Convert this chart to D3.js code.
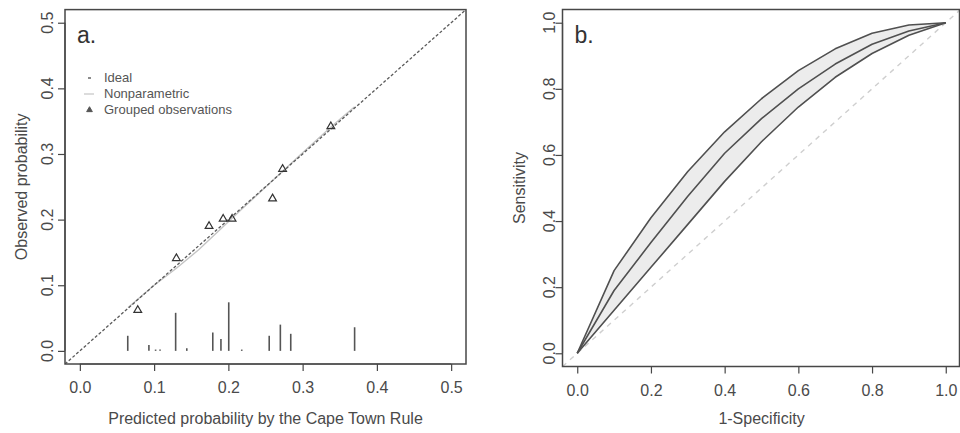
<!DOCTYPE html>
<html>
<head>
<meta charset="utf-8">
<script src="https://cdn.jsdelivr.net/npm/d3@7"></script>
<style>
  html, body { margin: 0; padding: 0; background: #fff; }
  svg { display: block; font-family: "Liberation Sans", Arial, Helvetica, sans-serif; }
</style>
</head>
<body>
<svg id="chart" width="960" height="433"></svg>
<script>
// ---------- Panel a data (calibration) ----------
const groupedPred = [0.078, 0.130, 0.174, 0.193, 0.205, 0.2595, 0.273, 0.338];
const groupedObs  = [0.062, 0.141, 0.190, 0.201, 0.201, 0.232, 0.277, 0.342];
const nonparPred  = [0.065, 0.10, 0.13, 0.16, 0.19, 0.22, 0.26, 0.30, 0.34, 0.37];
const nonparObs   = [0.066, 0.10, 0.126, 0.154, 0.186, 0.218, 0.26, 0.302, 0.343, 0.372];
const spikeX = [0.0645, 0.093, 0.102, 0.108, 0.129, 0.144, 0.179, 0.190, 0.2005, 0.218, 0.255, 0.270, 0.284, 0.370];
const spikeH = [0.023, 0.009, 0.002, 0.002, 0.058, 0.004, 0.028, 0.018, 0.074, 0.002, 0.023, 0.040, 0.026, 0.036];
const ticksA = [0.0, 0.1, 0.2, 0.3, 0.4, 0.5];
const legendLabels = ["Ideal", "Nonparametric", "Grouped observations"];

// ---------- Panel b data (ROC) ----------
const fpr      = [0, 0.1, 0.2, 0.3, 0.4, 0.5, 0.6, 0.7, 0.8, 0.9, 1.0];
const rocUpper = [0, 0.25, 0.41, 0.55, 0.67, 0.77, 0.855, 0.921, 0.968, 0.993, 1.0];
const rocMid   = [0, 0.19, 0.335, 0.475, 0.605, 0.71, 0.80, 0.875, 0.935, 0.975, 1.0];
const rocLower = [0, 0.13, 0.26, 0.39, 0.52, 0.64, 0.745, 0.835, 0.907, 0.962, 1.0];
const ticksB = [0.0, 0.2, 0.4, 0.6, 0.8, 1.0];

const svg = d3.select("#chart");
const textCol = "#4a4a4a";
const boxCol = "#474747";
const fmt = d3.format(".1f");

function rAxes(g, x, y, ticks, box, xTitle, yTitle, panelLabel, yLabX, yTitleX) {
  g.append("rect")
    .attr("x", box.l).attr("y", box.t)
    .attr("width", box.r - box.l).attr("height", box.b - box.t)
    .attr("fill", "none").attr("stroke", boxCol).attr("stroke-width", 1.5);
  const xa = g.append("g").attr("transform", `translate(0,${box.b})`)
    .call(d3.axisBottom(x).tickValues(ticks).tickFormat(fmt).tickSize(7).tickPadding(11));
  xa.select(".domain").remove();
  xa.append("line").attr("x1", x(ticks[0])).attr("x2", x(ticks[ticks.length-1]))
    .attr("stroke", boxCol).attr("stroke-width", 1.2);
  xa.selectAll(".tick line").attr("stroke", boxCol).attr("stroke-width", 1.2);
  xa.selectAll(".tick text").attr("fill", textCol).attr("font-size", 16)
    .attr("font-family", '"Liberation Sans", Arial, sans-serif');
  const ya = g.append("g").attr("transform", `translate(${box.l},0)`)
    .call(d3.axisLeft(y).tickValues(ticks).tickFormat("").tickSize(7));
  ya.select(".domain").remove();
  ya.append("line").attr("y1", y(ticks[0])).attr("y2", y(ticks[ticks.length-1]))
    .attr("stroke", boxCol).attr("stroke-width", 1.2);
  ya.selectAll(".tick line").attr("stroke", boxCol).attr("stroke-width", 1.2);
  g.selectAll(".ylab").data(ticks).enter().append("text")
    .attr("transform", d => `translate(${yLabX},${y(d)}) rotate(-90)`)
    .attr("text-anchor", "middle").attr("font-size", 16).attr("fill", textCol)
    .text(fmt);
  g.append("text").attr("x", (x(ticks[0]) + x(ticks[ticks.length-1])) / 2).attr("y", 424)
    .attr("text-anchor", "middle").attr("font-size", 16).attr("fill", textCol).text(xTitle);
  g.append("text")
    .attr("transform", `translate(${yTitleX},${(box.t + box.b) / 2}) rotate(-90)`)
    .attr("text-anchor", "middle").attr("font-size", 16).attr("fill", textCol).text(yTitle);
  g.append("text").attr("x", box.l + 12).attr("y", 43)
    .attr("font-size", 23).attr("fill", "#333").text(panelLabel);
}

// ================= Panel a =================
const boxA = {l: 65, r: 466, t: 9.6, b: 364};
const xA = d3.scaleLinear().domain([-0.02, 0.52]).range([boxA.l, boxA.r]);
const yA = d3.scaleLinear().domain([-0.02, 0.52]).range([boxA.b, boxA.t]);
const gA = svg.append("g");
gA.append("clipPath").attr("id", "clipA").append("rect")
  .attr("x", boxA.l).attr("y", boxA.t).attr("width", boxA.r - boxA.l).attr("height", boxA.b - boxA.t);
const pA = gA.append("g").attr("clip-path", "url(#clipA)");

pA.selectAll(".spike").data(spikeX).enter().append("line")
  .attr("x1", d => xA(d)).attr("x2", d => xA(d))
  .attr("y1", yA(0)).attr("y2", (d, i) => yA(spikeH[i]))
  .attr("stroke", "#555").attr("stroke-width", 1.6);

const npData = nonparPred.map((d, i) => [d, nonparObs[i]]);
pA.append("path").datum(npData)
  .attr("d", d3.line().x(d => xA(d[0])).y(d => yA(d[1])))
  .attr("fill", "none").attr("stroke", "#c4c4c4").attr("stroke-width", 1.4);

pA.append("path").datum([[-0.02, -0.02], [0.52, 0.52]])
  .attr("d", d3.line().x(d => xA(d[0])).y(d => yA(d[1])))
  .attr("fill", "none").attr("stroke", "#5a5a5a").attr("stroke-width", 1.3)
  .attr("stroke-dasharray", "3,2");

pA.selectAll(".tri").data(groupedPred).enter().append("path")
  .attr("d", d3.symbol().type(d3.symbolTriangle).size(26))
  .attr("transform", (d, i) => `translate(${xA(d)},${yA(groupedObs[i])})`)
  .attr("fill", "none").attr("stroke", "#333").attr("stroke-width", 1.2);

rAxes(gA, xA, yA, ticksA, boxA, "Predicted probability by the Cape Town Rule",
      "Observed probability", "a.", 53, 27);

const legY = [82, 98, 114];
const lg = gA.append("g");
lg.append("line").attr("x1", 88).attr("x2", 91).attr("y1", legY[0] - 4).attr("y2", legY[0] - 4)
  .attr("stroke", "#666").attr("stroke-width", 1.5);
lg.append("line").attr("x1", 84).attr("x2", 94).attr("y1", legY[1] - 4).attr("y2", legY[1] - 4)
  .attr("stroke", "#c4c4c4").attr("stroke-width", 1.2);
lg.append("path").attr("d", d3.symbol().type(d3.symbolTriangle).size(14))
  .attr("transform", `translate(89.5,${legY[2] - 4})`).attr("fill", "#555").attr("stroke", "#555");
lg.selectAll(".lt").data(legendLabels).enter().append("text")
  .attr("x", 104).attr("y", (d, i) => legY[i])
  .attr("font-size", 13).attr("fill", "#555").text(d => d);

// ================= Panel b =================
const boxB = {l: 562.5, r: 959.5, t: 9.5, b: 366.5};
const xB = d3.scaleLinear().domain([-0.04, 1.04]).range([boxB.l, 960.5]);
const yB = d3.scaleLinear().domain([-0.04, 1.04]).range([boxB.b, boxB.t]);
const gB = svg.append("g");
gB.append("clipPath").attr("id", "clipB").append("rect")
  .attr("x", boxB.l).attr("y", boxB.t).attr("width", boxB.r - boxB.l).attr("height", boxB.b - boxB.t);
const pB = gB.append("g").attr("clip-path", "url(#clipB)");

pB.append("path").datum([[-0.04, -0.04], [1.04, 1.04]])
  .attr("d", d3.line().x(d => xB(d[0])).y(d => yB(d[1])))
  .attr("fill", "none").attr("stroke", "#cfcfcf").attr("stroke-width", 1.4)
  .attr("stroke-dasharray", "5,5");

const band = fpr.map((d, i) => ({x: d, lo: rocLower[i], hi: rocUpper[i]}));
pB.append("path").datum(band)
  .attr("d", d3.area().x(d => xB(d.x)).y0(d => yB(d.lo)).y1(d => yB(d.hi)))
  .attr("fill", "#ececec").attr("stroke", "none");

[rocUpper, rocMid, rocLower].forEach(arr => {
  pB.append("path").datum(fpr.map((d, i) => [d, arr[i]]))
    .attr("d", d3.line().x(d => xB(d[0])).y(d => yB(d[1])))
    .attr("fill", "none").attr("stroke", "#505050").attr("stroke-width", 1.6)
    .attr("stroke-linejoin", "round");
});

rAxes(gB, xB, yB, ticksB, boxB, "1-Specificity", "Sensitivity", "b.", 555, 525);
</script>
</body>
</html>
